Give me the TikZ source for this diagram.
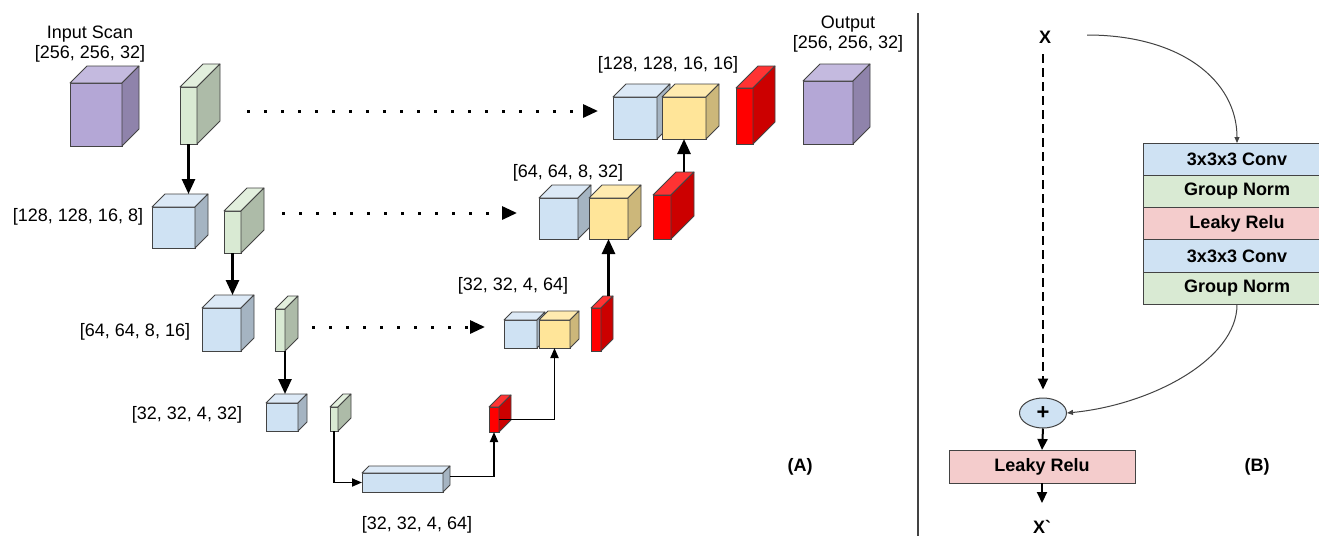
\documentclass[tikz,border=0pt]{standalone}
\usepackage{fontspec}
\setmainfont{Liberation Sans}
\usetikzlibrary{arrows.meta,calc,shapes.geometric}
\definecolor{edge}{HTML}{434343}
\definecolor{pfront}{HTML}{B4A7D6}\definecolor{ptop}{HTML}{C4BADF}\definecolor{pside}{HTML}{8F83AB}
\definecolor{bfront}{HTML}{CFE2F3}\definecolor{btop}{HTML}{DCE9F6}\definecolor{bside}{HTML}{A5B4C2}
\definecolor{gfront}{HTML}{D9EAD3}\definecolor{gtop}{HTML}{E2EFDD}\definecolor{gside}{HTML}{ADBBA8}
\definecolor{yfront}{HTML}{FFE599}\definecolor{ytop}{HTML}{FFEBB0}\definecolor{yside}{HTML}{CCB77A}
\definecolor{rfront}{HTML}{FF0000}\definecolor{rtop}{HTML}{FF3333}\definecolor{rside}{HTML}{CC0000}
\definecolor{lblue}{HTML}{CFE2F3}\definecolor{lgreen}{HTML}{D9EAD3}\definecolor{lpink}{HTML}{F4CCCC}
\tikzset{
  cubeface/.style={rectangle, draw=edge, line width=0.8pt, inner sep=0pt, outer sep=0pt},
  cubeedge/.style={draw=edge, line width=0.8pt, line join=round},
  lbl/.style={font=\fontsize{18}{20}\selectfont, inner sep=0pt, align=center},
  boldlbl/.style={font=\bfseries\fontsize{18}{20}\selectfont, inner sep=0pt},
  bigarrow/.style={line width=2.6pt, -{Triangle[length=15pt,width=13pt]}},
  thinarrow/.style={line width=1.8pt, -{Triangle[length=10pt,width=8pt]}},
  dotarrow/.style={line width=3pt, dash pattern=on 3pt off 14pt, -{Triangle[length=15pt,width=13pt]}},
  dasharrow/.style={line width=2pt, dash pattern=on 9pt off 5pt, -{Triangle[length=11pt,width=10pt]}},
  smallarrow/.style={line width=2pt, -{Triangle[length=11pt,width=10pt]}},
  curvearrow/.style={draw=edge, line width=1pt, -{Triangle[length=6pt,width=5pt]}},
  layer/.style={rectangle, draw=edge, line width=1pt, minimum width=188pt, minimum height=32.3pt,
    inner sep=0pt, outer sep=0pt, font=\bfseries\fontsize{18}{20}\selectfont},
  divider/.style={draw=edge, line width=1.2pt}
}
% name, x, y, w, h, depth, colour prefix
\newcommand{\cuboid}[7]{%
  \node[cubeface, fill=#7front, minimum width=#4pt, minimum height=#5pt, anchor=north west] (#1) at (#2,#3) {};
  \filldraw[cubeedge, fill=#7top] (#1.north west) -- ++(#6,-#6) -- ++(#4,0) -- (#1.north east) -- cycle;
  \filldraw[cubeedge, fill=#7side] (#1.north east) -- ++(#6,-#6) -- ++(0,#5) -- (#1.south east) -- cycle;
  \coordinate (#1-bk) at ($(#1.north)+(#6,-#6)$);
}
\begin{document}
\begin{tikzpicture}[x=1pt,y=-1pt]
\useasboundingbox (0,0) rectangle (1319,536);
\fill[white] (0,0) rectangle (1319,536);

% ---------- panel A : encoder ----------
\cuboid{in}{70}{83}{52}{63}{17}{p}
\cuboid{g1}{180}{87}{17}{57}{23}{g}
\cuboid{b1}{152}{207}{43}{41}{13}{b}
\cuboid{g2}{224}{211}{17}{42}{23}{g}
\cuboid{b2}{202}{308}{39}{43}{13}{b}
\cuboid{g3}{275}{309}{10}{42}{13}{g}
\cuboid{b3}{266}{403}{32}{28}{9}{b}
\cuboid{g4}{330}{407}{8}{24}{13}{g}
\cuboid{lg}{362}{473}{81}{19}{7}{b}
\cuboid{r4}{489}{407}{10}{25}{12}{r}

% ---------- decoder ----------
\cuboid{b3d}{504}{320}{33}{28}{8}{b}
\cuboid{y3}{539}{320}{31}{28}{9}{y}
\cuboid{r3}{591}{308}{10}{43}{12}{r}
\cuboid{b2d}{539}{198}{39}{41}{13}{b}
\cuboid{y2}{589}{198}{39}{41}{13}{y}
\cuboid{r2}{653}{195}{18}{44}{23}{r}
\cuboid{b1d}{613}{97}{44}{42}{13}{b}
\cuboid{y1}{662}{97}{44}{42}{13}{y}
\cuboid{r1}{736}{88}{17}{56}{22}{r}
\cuboid{out}{803}{81}{50}{63}{17}{p}

% labels
\node[lbl] (tin) at (90,44) {Input Scan\\{}[256, 256, 32]};
\node[lbl] (tout) at (848,34) {Output\\{}[256, 256, 32]};
\node[lbl] (t1) at (78,217) {[128, 128, 16, 8]};
\node[lbl] (t2) at (135,332) {[64, 64, 8, 16]};
\node[lbl] (t3) at (187,415) {[32, 32, 4, 32]};
\node[lbl] (t4) at (417,525) {[32, 32, 4, 64]};
\node[lbl] (t5) at (513,286) {[32, 32, 4, 64]};
\node[lbl] (t6) at (568,173) {[64, 64, 8, 32]};
\node[lbl] (t7) at (668,65) {[128, 128, 16, 16]};
\node[boldlbl] (tA) at (800,467) {(A)};

% encoder arrows
\draw[bigarrow] (g1.south) -- (g1.south |- b1-bk);
\draw[bigarrow] (g2.south) -- (g2.south |- b2-bk);
\draw[bigarrow] (g3.south east) -- (g3.south east |- b3-bk);
\draw[thinarrow] (g4.south) |- (lg.west);
\coordinate (lgR) at ($(lg.east)+(7,-6)$);
\draw[thinarrow] (lgR) -| (r4.south);
\draw[thinarrow] (r4.east) -| (y3.south);
\draw[bigarrow] (y2.south |- r3-bk) -- (y2.south);
\draw[bigarrow] (y1.south |- r2-bk) -- (y1.south);

% skip connections
\coordinate (d1s) at (247,111); \coordinate (d1e) at (598,111);
\coordinate (d2s) at (282,213); \coordinate (d2e) at (517,213);
\coordinate (d3s) at (312,327); \coordinate (d3e) at (485,327);
\draw[dotarrow] (d1s) -- (d1e);
\draw[dotarrow] (d2s) -- (d2e);
\draw[dotarrow] (d3s) -- (d3e);

% divider
\draw[divider] (918,13) -- (918,536);

% ---------- panel B ----------
\node[boldlbl] (xin) at (1045,37) {X};
\begin{scope}
  \clip (0,0) rectangle (1319,536);
  \node[layer, fill=lblue, anchor=north west] (c1) at (1143,143) {3x3x3 Conv};
  \node[layer, fill=lgreen, anchor=north] (n1) at (c1.south) {Group Norm};
  \node[layer, fill=lpink, anchor=north] (lk) at (n1.south) {Leaky Relu};
  \node[layer, fill=lblue, anchor=north] (c2) at (lk.south) {3x3x3 Conv};
  \node[layer, fill=lgreen, anchor=north] (n2) at (c2.south) {Group Norm};
\end{scope}
\node[ellipse, draw=edge, line width=1pt, fill=lblue, minimum width=47pt, minimum height=30pt,
      inner sep=0pt, font=\bfseries\fontsize{22}{24}\selectfont] (plus) at (1043,413) {+};
\node[layer, fill=lpink, minimum width=186pt, minimum height=33pt] (lr) at (1042,466.5) {Leaky Relu};
\node[boldlbl] (xout) at (1042,527) {X\textasciigrave};
\node[boldlbl] (tB) at (1257,467) {(B)};

\draw[dasharrow, shorten <=11pt, shorten >=8pt] (plus.north |- xin.south) -- (plus.north);
\coordinate (cs) at ($(xin.east)+(36,-2)$);
\draw[curvearrow] (cs) .. controls (1180,35) and (1237,80) .. (c1.north);
\draw[curvearrow] (n2.south) .. controls (1237,360) and (1150,405) .. (plus.east);
\draw[smallarrow] (plus.south) -- (lr.north);
\draw[smallarrow] (lr.south) -- ++(0,20);
\end{tikzpicture}
\end{document}
